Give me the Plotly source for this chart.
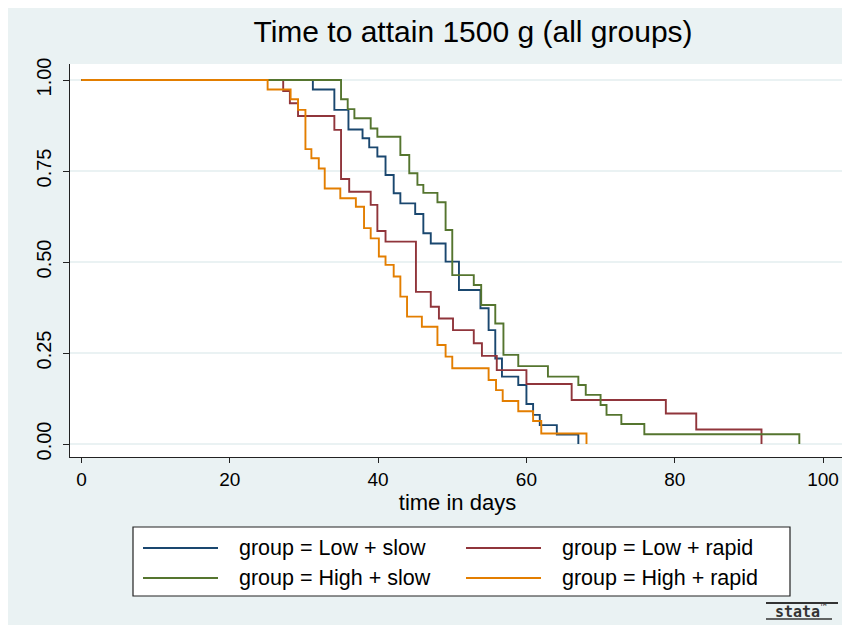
import plotly.graph_objects as go

# ---------------- data ----------------
group_names = ["group = Low + slow", "group = Low + rapid",
               "group = High + slow", "group = High + rapid"]

low_slow_t = [0, 31.2, 34.1, 36.0, 37.9, 38.8, 39.9, 41.0, 42.1, 43.0, 45.0, 46.1,
              47.1, 49.1, 50.9, 53.8, 54.9, 55.8, 56.7, 58.9, 60.0, 60.9, 61.8, 64.1, 67.0]
low_slow_s = [1, 0.974, 0.918, 0.864, 0.84, 0.815, 0.79, 0.739, 0.689, 0.661, 0.632, 0.579,
              0.551, 0.501, 0.423, 0.373, 0.313, 0.235, 0.185, 0.162, 0.11, 0.08, 0.052, 0.026, 0]

low_rapid_t = [0, 27.2, 28.1, 29.2, 34.1, 35.0, 36.1, 39.0, 39.9, 41.0, 45.1, 47.1,
               48.2, 50.1, 52.9, 54.0, 56.0, 60.0, 66.1, 78.8, 82.9, 91.7]
low_rapid_s = [1, 0.97, 0.936, 0.901, 0.863, 0.728, 0.693, 0.657, 0.585, 0.556, 0.418, 0.377,
               0.345, 0.313, 0.277, 0.242, 0.203, 0.165, 0.121, 0.084, 0.04, 0]

high_slow_t = [0, 35.0, 35.9, 36.8, 39.0, 39.9, 43.0, 44.2, 45.3, 46.1, 48.0, 49.1, 50.0,
               52.9, 53.9, 55.8, 56.9, 58.9, 62.9, 67.0, 68.0, 70.0, 70.8, 72.8, 75.9, 96.8]
high_slow_s = [1, 0.947, 0.92, 0.895, 0.867, 0.844, 0.794, 0.744, 0.712, 0.69, 0.664, 0.588, 0.464,
               0.437, 0.382, 0.331, 0.245, 0.214, 0.185, 0.162, 0.135, 0.107, 0.08, 0.055, 0.027, 0]

high_rapid_t = [0, 25.1, 28.2, 29.2, 30.2, 31.0, 32.0, 32.8, 34.9, 37.0, 38.1, 39.0, 40.1,
                41.0, 42.1, 43.0, 43.9, 45.9, 48.0, 49.1, 50.0, 54.9, 55.9, 56.8, 58.9, 60.9, 62.0, 68.1]
high_rapid_s = [1, 0.974, 0.947, 0.918, 0.81, 0.785, 0.757, 0.702, 0.675, 0.652, 0.593, 0.565, 0.515,
                0.492, 0.46, 0.405, 0.35, 0.322, 0.272, 0.24, 0.208, 0.176, 0.148, 0.118, 0.09, 0.063, 0.029, 0]

x_ticks = [0, 20, 40, 60, 80, 100]
y_ticks = [0, 0.25, 0.5, 0.75, 1.0]
y_tick_labels = ["0.00", "0.25", "0.50", "0.75", "1.00"]

colors = ["#1a476f", "#90353b", "#55752f", "#e37e00"]
series = [(low_slow_t, low_slow_s), (low_rapid_t, low_rapid_s),
          (high_slow_t, high_slow_s), (high_rapid_t, high_rapid_s)]

# ---------------- layout geometry ----------------
# The page has an 8px body margin, so the figure is drawn 8px right/down.
OFF = 8
W, H = 850 - OFF, 625 - OFF
# plot region in screen pixels
SPL, SPR, SPT, SPB = 70, 845, 64, 457
PL, PR, PT, PB = SPL - OFF, SPR - OFF, SPT - OFF, SPB - OFF


def fx(p):  # screen pixel x -> paper x
    return (p - OFF - PL) / (PR - PL)


def fy(p):  # screen pixel y -> paper y
    return (PB - (p - OFF)) / (PB - PT)


fig = go.Figure()
for (t, s), name, c in zip(series, group_names, colors):
    fig.add_trace(go.Scatter(x=t, y=s, mode="lines", line=dict(color=c, width=1.9, shape="hv"),
                             name=name, showlegend=False))

FONT = "Liberation Sans, Arial, sans-serif"
shapes = []
annotations = []

# legend box (manual, to reproduce the long line samples)
shapes.append(dict(type="rect", xref="paper", yref="paper",
                   x0=fx(133), x1=fx(790), y0=fy(527), y1=fy(596),
                   line=dict(color="#222222", width=1.2), fillcolor="white", layer="above"))
leg_line_x = [(143, 218), (466, 541)]
leg_text_x = [237, 560]
leg_row_y = [548, 578]
for i, (name, c) in enumerate(zip(group_names, colors)):
    col, row = i % 2, i // 2
    x0, x1 = leg_line_x[col]
    yy = leg_row_y[row]
    shapes.append(dict(type="line", xref="paper", yref="paper",
                       x0=fx(x0), x1=fx(x1), y0=fy(yy), y1=fy(yy),
                       line=dict(color=c, width=1.9), layer="above"))
    annotations.append(dict(xref="paper", yref="paper", x=fx(leg_text_x[col]), y=fy(yy),
                            xanchor="left", yanchor="middle", showarrow=False, text=name,
                            font=dict(family=FONT, size=21.5, color="black")))

# stata logo
annotations.append(dict(xref="paper", yref="paper", x=fx(800), y=fy(611),
                        xanchor="center", yanchor="middle", showarrow=False,
                        text="<b>stata</b><sup>™</sup>",
                        font=dict(family="DejaVu Sans Mono", size=15, color="#333333")))
shapes.append(dict(type="line", xref="paper", yref="paper", x0=fx(766), x1=fx(838),
                   y0=fy(603), y1=fy(603), line=dict(color="#333333", width=2)))
shapes.append(dict(type="line", xref="paper", yref="paper", x0=fx(766), x1=fx(832),
                   y0=fy(619), y1=fy(619), line=dict(color="#333333", width=1.5)))

fig.update_layout(
    width=W, height=H, autosize=False,
    margin=dict(l=PL, r=W - PR, t=PT, b=H - PB, pad=0, autoexpand=False),
    paper_bgcolor="#eaf2f3", plot_bgcolor="white",
    font=dict(family=FONT, color="black"),
    title=dict(text="Time to attain 1500 g (all groups)", x=(473 - OFF) / W, xref="container",
               xanchor="center", y=1 - (31 - OFF) / H, yref="container", yanchor="middle",
               font=dict(family=FONT, size=30, color="black")),
    showlegend=False,
    shapes=shapes, annotations=annotations,
    xaxis=dict(range=[-1.55, 102.96], tickvals=x_ticks, ticks="outside", ticklen=5,
               tickcolor="#222222", showline=True, linecolor="#222222", linewidth=1.3,
               showgrid=False, zeroline=False, tickfont=dict(size=19), automargin=False,
               title=dict(text="time in days", font=dict(size=22), standoff=4)),
    yaxis=dict(range=[-0.0357, 1.044], tickvals=y_ticks, ticktext=y_tick_labels,
               tickangle=-90, ticks="outside", ticklen=6, tickcolor="#222222",
               showline=True, linecolor="#222222", linewidth=1.3, automargin=False,
               ticklabelstandoff=4,
               showgrid=True, gridcolor="#eaf2f3", gridwidth=1.5, zeroline=False,
               tickfont=dict(size=20)),
)

fig.write_html("out.html")
